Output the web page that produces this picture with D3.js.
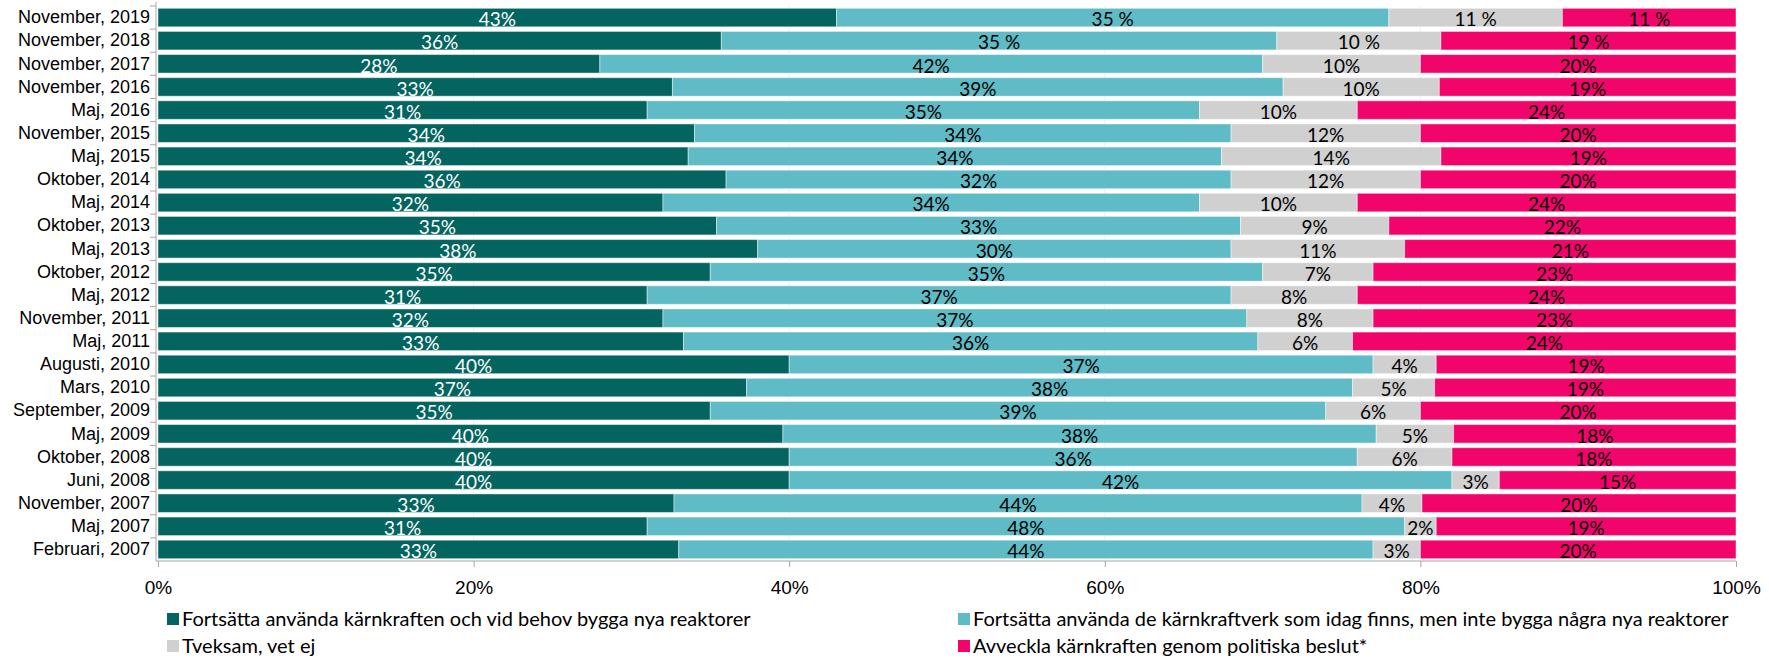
<!DOCTYPE html>
<html>
<head>
    <meta charset="utf-8">
    <style>
        body {
            margin: 0;
            background: #fff;
            font-family: Lato, "Open Sans", sans-serif;
        }

        .y .tick text {
            font-size: 18px;
            fill: #000;
        }

        .x .tick text {
            font-size: 19px;
            fill: #000;
        }

        .axis path, .axis line {
            stroke: #a6a6a6;
        }

        .grid line {
            stroke: #eeeeee;
        }

        .value {
            font-size: 19px;
            text-anchor: middle;
        }

        .legend text {
            font-size: 20px;
            fill: #000;
        }
    </style>
</head>

<body>
    <svg width="1769" height="659"></svg>

<script src="https://d3js.org/d3.v7.min.js"></script>

<script>
    // rows, top to bottom
    let categories = [
        "November, 2019", "November, 2018", "November, 2017", "November, 2016",
        "Maj, 2016", "November, 2015", "Maj, 2015", "Oktober, 2014", "Maj, 2014",
        "Oktober, 2013", "Maj, 2013", "Oktober, 2012", "Maj, 2012", "November, 2011",
        "Maj, 2011", "Augusti, 2010", "Mars, 2010", "September, 2009", "Maj, 2009",
        "Oktober, 2008", "Juni, 2008", "November, 2007", "Maj, 2007", "Februari, 2007"
    ]

    let seriesNames = [
        "Fortsätta använda kärnkraften och vid behov bygga nya reaktorer",
        "Fortsätta använda de kärnkraftverk som idag finns, men inte bygga några nya reaktorer",
        "Tveksam, vet ej",
        "Avveckla kärnkraften genom politiska beslut*"
    ]

    let seriesColors = ["#04645f", "#5fbbc5", "#d0d0d0", "#f2056b"]
    let labelColors = ["#ffffff", "#000000", "#000000", "#000000"]

    // values (percent)
    let buildValues = [43, 35.7, 28, 32.6, 31, 34, 33.6, 36, 32, 35.4, 38, 35, 31, 32, 33.3, 40, 37.3, 35, 39.6, 40, 40, 32.7, 31, 33]
    let keepValues = [35, 35.2, 42, 38.7, 35, 34, 33.8, 32, 34, 33.2, 30, 35, 37, 37, 36.4, 37, 38.4, 39, 37.6, 36, 42, 43.6, 48, 44]
    let unsureValues = [11, 10.4, 10, 9.9, 10, 12, 13.9, 12, 10, 9.4, 11, 7, 8, 8, 6, 4, 5.2, 6, 4.9, 6, 3, 3.8, 2, 3]
    let phaseOutValues = [11, 18.7, 20, 18.8, 24, 20, 18.7, 20, 24, 22, 21, 23, 24, 23, 24.3, 19, 19.1, 20, 17.9, 18, 15, 19.9, 19, 20]

    // labels as printed in the chart
    let buildLabels = ["43%","36%","28%","33%","31%","34%","34%","36%","32%","35%","38%","35%","31%","32%","33%","40%","37%","35%","40%","40%","40%","33%","31%","33%"]
    let keepLabels = ["35 %","35 %","42%","39%","35%","34%","34%","32%","34%","33%","30%","35%","37%","37%","36%","37%","38%","39%","38%","36%","42%","44%","48%","44%"]
    let unsureLabels = ["11 %","10 %","10%","10%","10%","12%","14%","12%","10%","9%","11%","7%","8%","8%","6%","4%","5%","6%","5%","6%","3%","4%","2%","3%"]
    let phaseOutLabels = ["11 %","19 %","20%","19%","24%","20%","19%","20%","24%","22%","21%","23%","24%","23%","24%","19%","19%","20%","18%","18%","15%","20%","19%","20%"]

    let xTicks = [0, 0.2, 0.4, 0.6, 0.8, 1]

    let keys = ["build", "keep", "unsure", "phaseOut"]
    let valueSets = [buildValues, keepValues, unsureValues, phaseOutValues]
    let labelSets = [buildLabels, keepLabels, unsureLabels, phaseOutLabels]

    let rows = categories.map((c, i) => {
        let row = { category: c, index: i }
        keys.forEach((k, j) => row[k] = valueSets[j][i])
        return row
    })

    let series = d3.stack()
        .keys(keys)
        .offset(d3.stackOffsetExpand)(rows)

    let margin = { top: 6, right: 33, bottom: 98, left: 158 }
    let width = 1769
    let height = 659

    let svg = d3.select("svg")

    let x = d3.scaleLinear()
        .domain([0, 1])
        .range([margin.left, width - margin.right])

    let y = d3.scaleBand()
        .domain(categories)
        .range([margin.top, height - margin.bottom])
        .paddingInner(0.2)
        .paddingOuter(0.1)

    let color = d3.scaleOrdinal()
        .domain(keys)
        .range(seriesColors)

    // faint gridlines
    svg.append("g")
        .attr("class", "grid")
        .selectAll("line")
        .data(xTicks.slice(1, -1))
        .join("line")
        .attr("x1", d => x(d))
        .attr("x2", d => x(d))
        .attr("y1", margin.top)
        .attr("y2", height - margin.bottom)

    let groups = svg.append("g")
        .attr("class", "bars")
        .selectAll("g")
        .data(series)
        .join("g")
        .attr("fill", d => color(d.key))

    groups.selectAll("rect")
        .data(d => d)
        .join("rect")
        .attr("x", d => x(d[0]))
        .attr("y", d => y(d.data.category))
        .attr("width", d => x(d[1]) - x(d[0]))
        .attr("height", y.bandwidth())
        .attr("stroke", "rgba(255,255,255,0.45)")
        .attr("stroke-width", 1)

    // value labels, sitting low in the bar like the original
    let labels = svg.append("g").attr("class", "labels")
    series.forEach((s, j) => {
        labels.append("g")
            .selectAll("text")
            .data(s)
            .join("text")
            .attr("class", "value")
            .attr("x", d => (x(d[0]) + x(d[1])) / 2)
            .attr("y", d => y(d.data.category) + y.bandwidth() - 0.5)
            .attr("fill", labelColors[j])
            .text(d => labelSets[j][d.data.index])
    })

    // y axis with ticks between rows
    let yAxis = svg.append("g")
        .attr("class", "y axis")
        .attr("transform", `translate(${margin.left - 2},0)`)
        .call(d3.axisLeft(y).tickSize(0).tickPadding(6))
        .call(g => g.select(".domain").remove())

    let yTop = margin.top
    let yBottom = height - margin.bottom
    let boundaries = d3.range(categories.length + 1).map(i => yTop + i * (yBottom - yTop) / categories.length)

    yAxis.append("line")
        .attr("x1", 0).attr("x2", 0)
        .attr("y1", yTop - 4).attr("y2", yBottom)
        .attr("stroke", "#a6a6a6")

    yAxis.selectAll(".btick")
        .data(boundaries.slice(0, -1))
        .join("line")
        .attr("class", "btick")
        .attr("x1", -6).attr("x2", 0)
        .attr("y1", d => d).attr("y2", d => d)
        .attr("stroke", "#a6a6a6")

    svg.append("g")
        .attr("class", "x axis")
        .attr("transform", `translate(0,${yBottom})`)
        .call(d3.axisBottom(x).tickValues(xTicks).tickFormat(d3.format(".0%")).tickSize(6).tickPadding(14))
        .call(g => g.select(".domain").attr("d", `M${margin.left - 2},0H${x(1)}`))

    // legend
    let legendPos = [
        { x: 167, y: 619 },
        { x: 958, y: 619 },
        { x: 167, y: 646 },
        { x: 958, y: 646 }
    ]

    let legend = svg.append("g")
        .attr("class", "legend")
        .selectAll("g")
        .data(keys)
        .join("g")
        .attr("transform", (d, i) => `translate(${legendPos[i].x},${legendPos[i].y})`)

    legend.append("rect")
        .attr("x", 0)
        .attr("y", -6)
        .attr("width", 12)
        .attr("height", 12)
        .attr("fill", d => color(d))

    legend.append("text")
        .attr("x", 15)
        .attr("y", 0)
        .attr("dy", "0.35em")
        .text((d, i) => seriesNames[i])
</script>
</body>
</html>
